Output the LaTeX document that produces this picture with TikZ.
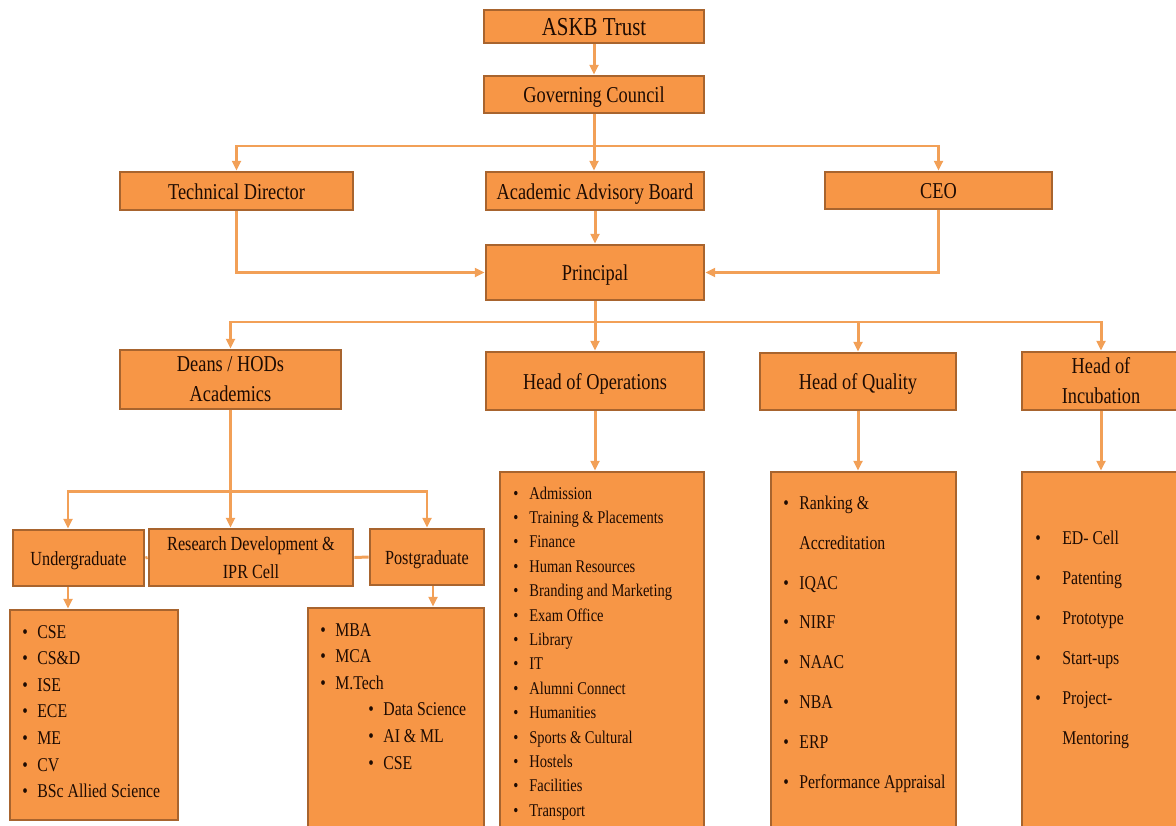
\documentclass[tikz,border=0pt]{standalone}
\usepackage{fontspec}
\setmainfont{Liberation Serif}[FakeStretch=0.81]
\usetikzlibrary{arrows.meta,calc}
\definecolor{boxfill}{HTML}{F79646}
\definecolor{boxedge}{HTML}{A8642E}
\definecolor{wire}{HTML}{F2A057}
\definecolor{ink}{HTML}{1E0B02}
\newcommand{\fsTop}{\fontsize{14.7}{17}\selectfont}
\newcommand{\fsHead}{\fontsize{12.9}{17}\selectfont}
\newcommand{\fsSub}{\fontsize{11.4}{15.9}\selectfont}
\newcommand{\fsOps}{\fontsize{10.2}{12}\selectfont}
\newcommand{\fsList}{\fontsize{11.1}{13}\selectfont}
\tikzset{
  box/.style={draw=boxedge, fill=boxfill, line width=1.6pt, text=ink,
    align=center, inner sep=0pt, font=\fsHead},
  oneline/.style={text height=#1, text depth=0pt},
  sz/.style 2 args={minimum width=#1*0.02cm, minimum height=#2*0.02cm},
  wireline/.style={draw=wire, line width=1.7pt},
  arr/.style={wireline, -{Triangle[length=5.5pt,width=5pt]}},
  item/.style={text=ink, inner sep=0pt, anchor=base west},
}
\begin{document}
\begin{tikzpicture}[x=0.02cm,y=-0.02cm]
\useasboundingbox (0,0) rectangle (1176,825);

% top of the chart
\node[box, sz={220}{33}, font=\fsTop, oneline=9.7pt] (trust) at (594,26.5) {ASKB Trust};
\node[box, sz={220}{37}, oneline=9.6pt] (gov) at (594,94.5) {Governing Council};
\node[box, sz={233}{38}, oneline=9.6pt] (tech) at (236.5,191) {Technical Director};
\node[box, sz={218}{38}, oneline=9.6pt] (aab) at (595,191) {Academic Advisory Board};
\node[box, sz={227}{37}, oneline=9.6pt] (ceo) at (938.5,190.5) {CEO};
\node[box, sz={218}{55}, oneline=9.6pt] (principal) at (595,272.5) {Principal};

% heads
\node[box, sz={221}{59}] (deans) at (230.5,379.5) {Deans / HODs\\Academics};
\node[box, sz={218}{58}, oneline=9.6pt] (ops) at (595,381) {Head of Operations};
\node[box, sz={196}{57}, oneline=9.6pt] (quality) at (858,381.5) {Head of Quality};
\node[box, sz={158}{58}] (incub) at (1101,381) {Head of\\Incubation};

% academic units
\node[box, sz={131}{56}, font=\fsSub, oneline=8.5pt] (ug) at (78.5,558) {Undergraduate};
\node[box, sz={204}{57}, font=\fsSub] (rd) at (251,557.5) {Research Development \&\\IPR Cell};
\node[box, sz={114}{56}, font=\fsSub, oneline=8.5pt] (pg) at (427,557) {Postgraduate};

% list boxes
\node[box, sz={168}{210}] (uglist) at (94,715) {};
\node[box, sz={176}{224}] (pglist) at (396,720) {};
\node[box, sz={204}{360}] (opslist) at (602,652) {};
\node[box, sz={185}{360}] (qlist) at (863.5,652) {};
\node[box, sz={158}{360}] (ilist) at (1101,652) {};

% list entries
\foreach \t [count=\i from 0] in {CSE,CS\&D,ISE,ECE,ME,CV,BSc Allied Science}
  \node[item, font=\fsList] (ug-\i) at (22,{638+\i*26.6}) {\makebox[0.3cm][l]{\textbullet}\t};
\foreach \xx/\t [count=\i from 0] in {320/MBA,320/MCA,320/M.Tech,368/Data Science,368/AI \& ML,368/CSE}
  \node[item, font=\fsList] (pg-\i) at (\xx,{636+\i*26.6}) {\makebox[0.3cm][l]{\textbullet}\t};
\foreach \t [count=\i from 0] in {Admission,Training \& Placements,Finance,Human Resources,
    Branding and Marketing,Exam Office,Library,IT,Alumni Connect,Humanities,
    Sports \& Cultural,Hostels,Facilities,Transport}
  \node[item, font=\fsOps] (op-\i) at (513,{499+\i*24.4}) {\makebox[0.32cm][l]{\textbullet}\t};
\foreach \b/\t [count=\i from 0] in {1/Ranking \&,0/Accreditation,1/IQAC,1/NIRF,1/NAAC,1/NBA,1/ERP,1/Performance Appraisal}
  \node[item, font=\fsList] (q-\i) at (783,{509.5+\i*39.8}) {\makebox[0.32cm][l]{\ifnum\b=1 \textbullet\fi}\t};
\foreach \b/\t [count=\i from 0] in {1/ED- Cell,1/Patenting,1/Prototype,1/Start-ups,1/Project-,0/Mentoring}
  \node[item, font=\fsList] (in-\i) at (1035,{544+\i*40}) {\makebox[0.54cm][l]{\ifnum\b=1 \textbullet\fi}\t};

% connectors
\coordinate (busA) at (594,146);
\coordinate (busB) at (595,322);
\coordinate (busC) at (230.5,491);
\coordinate (ugx) at (68,0);
\coordinate (pgx) at (433,0);

\draw[arr] (trust) -- (gov);
\draw[arr] (gov.south) -- (gov.south |- aab.north);
\draw[arr] (busA) -| (tech.north);
\draw[arr] (busA) -| (ceo.north);
\draw[arr] (tech.south) |- (principal.west);
\draw[arr] (ceo.south) |- (principal.east);
\draw[arr] (aab.south) -- (aab.south |- principal.north);

\draw[wireline] (principal.south) -- (busB);
\draw[arr] (busB) -| (deans.north);
\draw[arr] (busB) -- (busB |- ops.north);
\draw[arr] (busB) -| (quality.north);
\draw[arr] (busB) -| (incub.north);

\draw[arr] (deans.south) -- (deans.south |- rd.north);
\draw[arr] (busC) -| (ugx |- ug.north);
\draw[arr] (busC) -| (pg.north);
\draw[wireline] (ug.east) -- (rd.west);
\draw[wireline] (rd.east) -- (pg.west);
\draw[arr] (ugx |- ug.south) -- (ugx |- uglist.north);
\draw[arr] (pgx |- pg.south) -- (pgx |- pglist.north);

\draw[arr] (ops.south) -- (ops.south |- opslist.north);
\draw[arr] (quality.south) -- (quality.south |- qlist.north);
\draw[arr] (incub.south) -- (incub.south |- ilist.north);
\end{tikzpicture}
\end{document}
